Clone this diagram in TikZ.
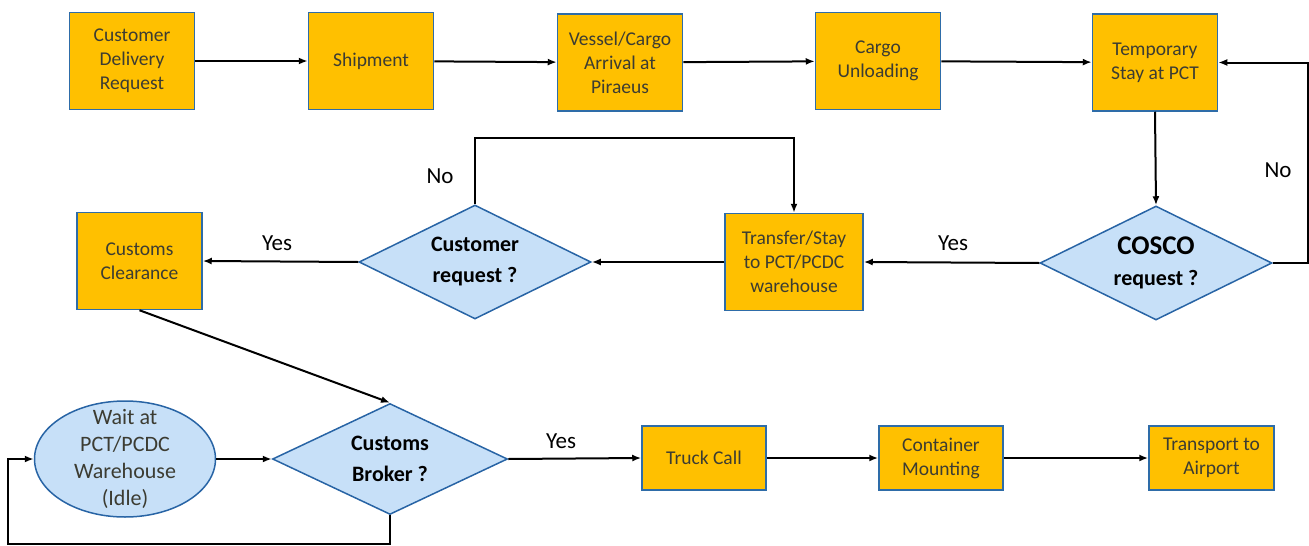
\documentclass[tikz,border=0pt]{standalone}
\usepackage{fontspec}
\setmainfont{Carlito}
\usetikzlibrary{shapes.geometric,arrows.meta}
\definecolor{boxfill}{RGB}{255,192,0}
\definecolor{boxline}{RGB}{46,108,168}
\definecolor{decfill}{RGB}{199,224,248}
\definecolor{decline}{RGB}{40,100,165}
\definecolor{txtgray}{RGB}{60,60,50}

\begin{document}
\begin{tikzpicture}[x=1pt,y=-1pt,
  stepbox/.style={draw=boxline, line width=1.5pt, fill=boxfill,
    minimum width=125pt, minimum height=97pt, inner sep=0pt,
    align=center, text=txtgray, font=\fontsize{19.5}{24}\selectfont},
  lowbox/.style={stepbox, minimum height=64pt},
  decision/.style={diamond, aspect=2, draw=decline, line width=1.5pt, fill=decfill,
    inner sep=0pt, align=center, font=\bfseries\fontsize{22}{31}\selectfont,
    minimum width=232pt, minimum height=114pt},
  idle/.style={ellipse, draw=decline, line width=1.5pt, fill=decfill,
    minimum width=181pt, minimum height=116pt, inner sep=0pt},
  idletext/.style={align=center, text=txtgray, font=\fontsize{22}{27}\selectfont},
  arr/.style={draw=black, line width=2pt, -{Latex[length=9pt,width=7pt]}},
  lbl/.style={font=\fontsize{23}{28}\selectfont}
]
\useasboundingbox (0,0) rectangle (1309,546);

% top row
\node[stepbox] (request)   at (132,61)   {Customer\\Delivery\\Request};
\node[stepbox] (shipment)  at (371,61)   {Shipment};
\node[stepbox] (arrival)   at (620,62.5) {Vessel/Cargo\\Arrival at\\Piraeus};
\node[stepbox] (unloading) at (878,61)   {Cargo\\Unloading};
\node[stepbox] (stay)      at (1155,62.5){Temporary\\Stay at PCT};

% middle row
\node[decision] (cosco) at (1156,263) {{\fontsize{27}{31}\selectfont COSCO}\\request ?};
\node[stepbox, minimum width=138pt] (transfer) at (794,262) {Transfer/Stay\\to PCT/PCDC\\warehouse};
\node[decision] (custreq) at (475,262) {Customer\\request ?};
\node[stepbox] (clearance) at (139.5,261) {Customs\\Clearance};

% bottom row
\node[idle, label={[idletext]center:{Wait at\\PCT/PCDC\\Warehouse\\(Idle)}}] (wait) at (125,459) {};
\node[decision, minimum width=235pt, minimum height=111pt] (broker) at (390,459) {Customs\\Broker ?};
\node[lowbox, minimum width=124pt] (truck)     at (704,458)  {Truck Call};
\node[lowbox, minimum width=124pt] (mounting)  at (941,458)  {Container\\Mounting};
\node[lowbox]                      (transport) at (1211.5,458) {Transport to\\Airport};

% connectors
\draw[arr] (request) -- (shipment);
\draw[arr] (shipment) -- (arrival);
\draw[arr] (arrival) -- (unloading);
\draw[arr] (unloading) -- (stay);
\draw[arr] (stay.south) -- (cosco.north);
\draw[arr] (cosco.east) -- ++(35,0) |- (stay.east);
\draw[arr] (cosco.west) -- (transfer.east);
\draw[arr] (transfer.west) -- (custreq.east);
\draw[arr] (custreq.north) -- ++(0,-66) -| (transfer.north);
\draw[arr] (custreq.west) -- (clearance.east);
\draw[arr] (clearance.south) -- (broker.north);
\draw[arr] (wait.east) -- (broker.west);
\draw[arr] (broker.south) -- ++(0,29) -| ([xshift=-26pt]wait.west) -- (wait.west);
\draw[arr] (broker.east) -- (truck.west);
\draw[arr] (truck) -- (mounting);
\draw[arr] (mounting) -- (transport);

% branch labels
\node[lbl] (no1)  at (1278,170) {No};
\node[lbl] (yes1) at (953,243)  {Yes};
\node[lbl] (no2)  at (440,176)  {No};
\node[lbl] (yes2) at (277,243)  {Yes};
\node[lbl] (yes3) at (561,441)  {Yes};
\end{tikzpicture}
\end{document}
